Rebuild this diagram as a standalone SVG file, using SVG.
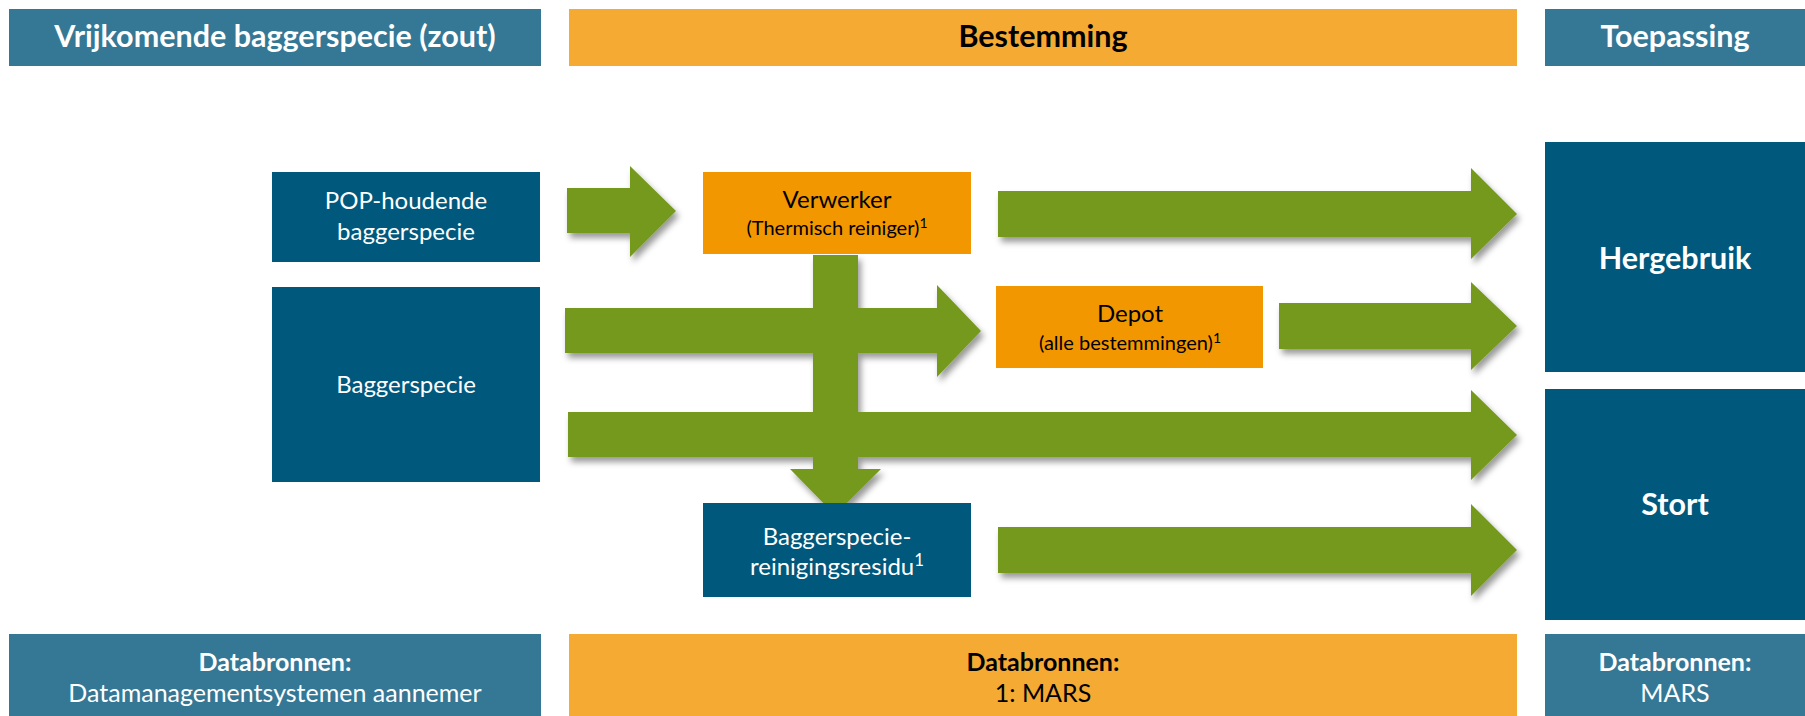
<svg xmlns="http://www.w3.org/2000/svg" width="1805" height="716" viewBox="0 0 1805 716">
<style>
.hb{fill:#347896}
.ho{fill:#F4AA33}
.nb{fill:#00587C}
.no{fill:#F39700}
.ar{fill:#74991F}
text{font-family:Lato,"Open Sans",sans-serif;text-anchor:middle}
.hw{fill:#fff;font-weight:bold;font-size:30.5px}
.hk{fill:#000;font-weight:bold;font-size:30.5px}
.tw{fill:#fff;font-size:24px}
.tk{fill:#000;font-size:24px}
.sk{fill:#000;font-size:20px}
.bw{fill:#fff;font-size:25px}
.bk{fill:#000;font-size:25px}
.b{font-weight:bold}
.sup{font-size:70%}
</style>
<defs>
<filter id="sh" x="-10%" y="-20%" width="130%" height="150%">
<feDropShadow dx="3" dy="5" stdDeviation="3" flood-color="#000" flood-opacity="0.4"/>
</filter>
</defs>

<g id="header-left"><rect class="hb" x="9" y="9" width="532" height="57"/><text class="hw" x="275" y="47">Vrijkomende baggerspecie (zout)</text></g>
<g id="header-mid"><rect class="ho" x="569" y="9" width="948" height="57"/><text class="hk" x="1043" y="47">Bestemming</text></g>
<g id="header-right"><rect class="hb" x="1545" y="9" width="260" height="57"/><text class="hw" x="1675" y="47">Toepassing</text></g>

<g id="footer-left"><rect class="hb" x="9" y="634" width="532" height="82"/><text class="bw b" x="275" y="671">Databronnen:</text><text class="bw" x="275" y="702">Datamanagementsystemen aannemer</text></g>
<g id="footer-mid"><rect class="ho" x="569" y="634" width="948" height="82"/><text class="bk b" x="1043" y="671">Databronnen:</text><text class="bk" x="1043" y="702">1: MARS</text></g>
<g id="footer-right"><rect class="hb" x="1545" y="634" width="260" height="82"/><text class="bw b" x="1675" y="671">Databronnen:</text><text class="bw" x="1675" y="702">MARS</text></g>

<g id="connectors" filter="url(#sh)">
<polygon class="ar" points="813,255 858,255 858,469 881,469 835,515 790,469 813,469"/>
<polygon class="ar" points="567,188 630,188 630,166 676,211 630,257 630,233 567,233"/>
<polygon class="ar" points="998,191 1471,191 1471,168 1517,214 1471,259 1471,237 998,237"/>
<polygon class="ar" points="565,308 937,308 937,285 981,331 937,377 937,353 565,353"/>
<polygon class="ar" points="1279,303 1471,303 1471,282 1517,326 1471,370 1471,349 1279,349"/>
<polygon class="ar" points="568,412 1471,412 1471,390 1517,435 1471,480 1471,457 568,457"/>
<polygon class="ar" points="998,527 1471,527 1471,504 1517,550 1471,596 1471,573 998,573"/>
</g>

<g id="pop"><rect class="nb" x="272" y="172" width="268" height="90"/><text class="tw" x="406" y="209">POP-houdende</text><text class="tw" x="406" y="240">baggerspecie</text></g>
<g id="baggerspecie"><rect class="nb" x="272" y="287" width="268" height="195"/><text class="tw" x="406" y="393">Baggerspecie</text></g>
<g id="verwerker"><rect class="no" x="703" y="172" width="268" height="82"/><text class="tk" x="837" y="208">Verwerker</text><text class="sk" x="837" y="235">(Thermisch reiniger)<tspan class="sup" dy="-7">1</tspan></text></g>
<g id="depot"><rect class="no" x="996" y="286" width="267" height="82"/><text class="tk" x="1130" y="322">Depot</text><text class="sk" x="1130" y="350">(alle bestemmingen)<tspan class="sup" dy="-7">1</tspan></text></g>
<g id="residu"><rect class="nb" x="703" y="503" width="268" height="94"/><text class="tw" x="837" y="545">Baggerspecie-</text><text class="tw" x="837" y="575">reinigingsresidu<tspan class="sup" dy="-9">1</tspan></text></g>
<g id="hergebruik"><rect class="nb" x="1545" y="142" width="260" height="230"/><text class="hw" x="1675" y="269">Hergebruik</text></g>
<g id="stort"><rect class="nb" x="1545" y="389" width="260" height="231"/><text class="hw" x="1675" y="515">Stort</text></g>
</svg>
